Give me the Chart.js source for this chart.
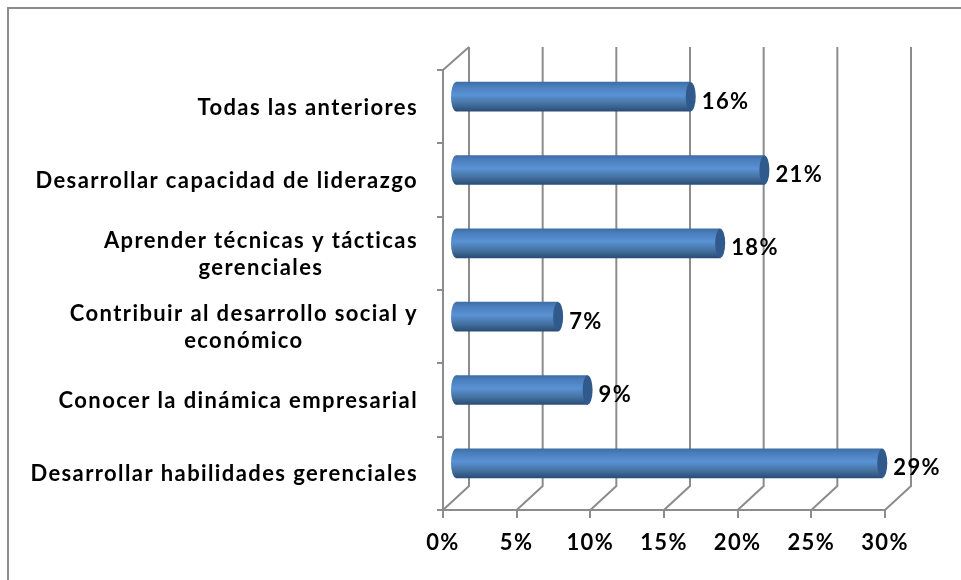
<!DOCTYPE html>
<html lang="es">
<head>
<meta charset="UTF-8" />
<title>Chart</title>
<script src="https://cdn.jsdelivr.net/npm/chart.js"></script>
<style>
  html, body { margin: 0; padding: 0; background: #fff; }
  #chart { display: block; }
</style>
</head>
<body>
<canvas id="chart" width="961" height="580"></canvas>
<script>
const categories = [
    ['Todas las anteriores'],
    ['Desarrollar capacidad de liderazgo'],
    ['Aprender técnicas y tácticas', 'gerenciales'],
    ['Contribuir al desarrollo social y', 'económico'],
    ['Conocer la dinámica empresarial'],
    ['Desarrollar habilidades gerenciales']
];
const values = [16, 21, 18, 7, 9, 29];
const xTicks = [0, 5, 10, 15, 20, 25, 30];

const FONT = 'bold 22px Lato, sans-serif';
const GREY = '#8c8c8c';
const BAR_DX = 12, BAR_DY = -10;   // cylinders float inside the 3D box
const DEPTH_X = 26, DEPTH_Y = 24;

function barGradient(ctx, top, bottom) {
    const g = ctx.createLinearGradient(0, top, 0, bottom);
    g.addColorStop(0, '#3f6da6');
    g.addColorStop(0.15, '#4a7fbd');
    g.addColorStop(0.45, '#5a92d4');
    g.addColorStop(0.75, '#44719f');
    g.addColorStop(1, '#2b4d78');
    return g;
}

// frame + the 3D walls, drawn behind the bars
const box3d = {
    id: 'box3d',
    beforeDraw(chart) {
        chart.ctx.letterSpacing = '1.4px';   // the source text runs wide
    },
    beforeDatasetsDraw(chart) {
        const { ctx, chartArea: a, scales: { x } } = chart;
        ctx.save();
        ctx.strokeStyle = GREY;
        ctx.lineWidth = 2;
        ctx.beginPath();
        xTicks.forEach(v => {
            const px = x.getPixelForValue(v);
            ctx.moveTo(px, a.bottom);
            ctx.lineTo(px + DEPTH_X, a.bottom - DEPTH_Y);
            ctx.lineTo(px + DEPTH_X, a.top - DEPTH_Y + 1);
        });
        ctx.moveTo(a.left, a.top);
        ctx.lineTo(a.left + DEPTH_X, a.top - DEPTH_Y + 1);
        ctx.stroke();
        ctx.restore();

        // shift the bar elements off the front axis
        ctx.save();
        ctx.translate(BAR_DX, BAR_DY);
        const meta = chart.getDatasetMeta(0);
        meta.data.forEach(bar => {
            const t = bar.y - bar.height / 2, b = bar.y + bar.height / 2;
            ctx.fillStyle = barGradient(ctx, t, b);
            ctx.beginPath();
            ctx.ellipse(bar.base, bar.y, 5, bar.height / 2, 0, 0, Math.PI * 2);
            ctx.fill();
        });
    },
    afterDatasetsDraw(chart) {
        const { ctx } = chart;
        const meta = chart.getDatasetMeta(0);
        meta.data.forEach(bar => {
            ctx.fillStyle = '#30598c';
            ctx.beginPath();
            ctx.ellipse(bar.x, bar.y, 5, bar.height / 2, 0, 0, Math.PI * 2);
            ctx.fill();
        });
        ctx.restore();

        ctx.save();
        ctx.font = FONT;
        ctx.fillStyle = '#000';
        ctx.textBaseline = 'middle';
        ctx.textAlign = 'left';
        meta.data.forEach((bar, i) => {
            ctx.fillText(values[i] + '%', bar.x + BAR_DX + 11, bar.y + BAR_DY + 5);
        });

        // category labels: block right aligned, wrapped lines centred in the block
        const y = chart.scales.y;
        categories.forEach((lines, i) => {
            const w = Math.max(...lines.map(l => ctx.measureText(l).width));
            const cx = 418 - w / 2;
            ctx.textAlign = 'center';
            lines.forEach((l, j) => {
                const py = y.getPixelForValue(i) + (j - (lines.length - 1) / 2) * 27 + 1;
                ctx.fillText(l, cx, py);
            });
        });
        ctx.restore();

        // picture only shows the top and left edge of the frame
        ctx.save();
        ctx.strokeStyle = GREY;
        ctx.lineWidth = 2;
        ctx.beginPath();
        ctx.moveTo(8, 580);
        ctx.lineTo(8, 8);
        ctx.lineTo(961, 8);
        ctx.stroke();
        ctx.restore();
    }
};

new Chart(document.getElementById('chart'), {
    type: 'bar',
    plugins: [box3d],
    data: {
        labels: categories.map(c => c.join(' ')),
        datasets: [{
            data: values,
            barThickness: 29,
            clip: false,
            backgroundColor(c) {
                const y = c.chart.scales.y.getPixelForValue(c.dataIndex);
                if (!isFinite(y)) return '#5b94d8';
                return barGradient(c.chart.ctx, y - 14.5, y + 14.5);
            }
        }]
    },
    options: {
        indexAxis: 'y',
        responsive: false,
        animation: false,
        layout: { padding: { top: 70, right: 76, bottom: 0, left: 0 } },
        plugins: { legend: { display: false }, tooltip: { enabled: false } },
        scales: {
            x: {
                min: 0,
                max: 30,
                afterFit(s) { s.height = 70; },
                afterBuildTicks(s) { s.ticks = xTicks.map(v => ({ value: v })); },
                border: { color: GREY, width: 2 },
                grid: { drawOnChartArea: false, color: GREY, lineWidth: 2, tickLength: 8 },
                ticks: {
                    color: '#000',
                    font: { family: 'Lato, sans-serif', size: 22, weight: 'bold' },
                    padding: 12,
                    maxRotation: 0,
                    callback: v => v + '%'
                }
            },
            y: {
                afterFit(s) { s.width = 443; },
                border: { color: GREY, width: 2 },
                grid: { drawOnChartArea: false, color: GREY, lineWidth: 2, tickLength: 6 },
                ticks: { display: false }
            }
        }
    }
});
</script>
</body>
</html>
